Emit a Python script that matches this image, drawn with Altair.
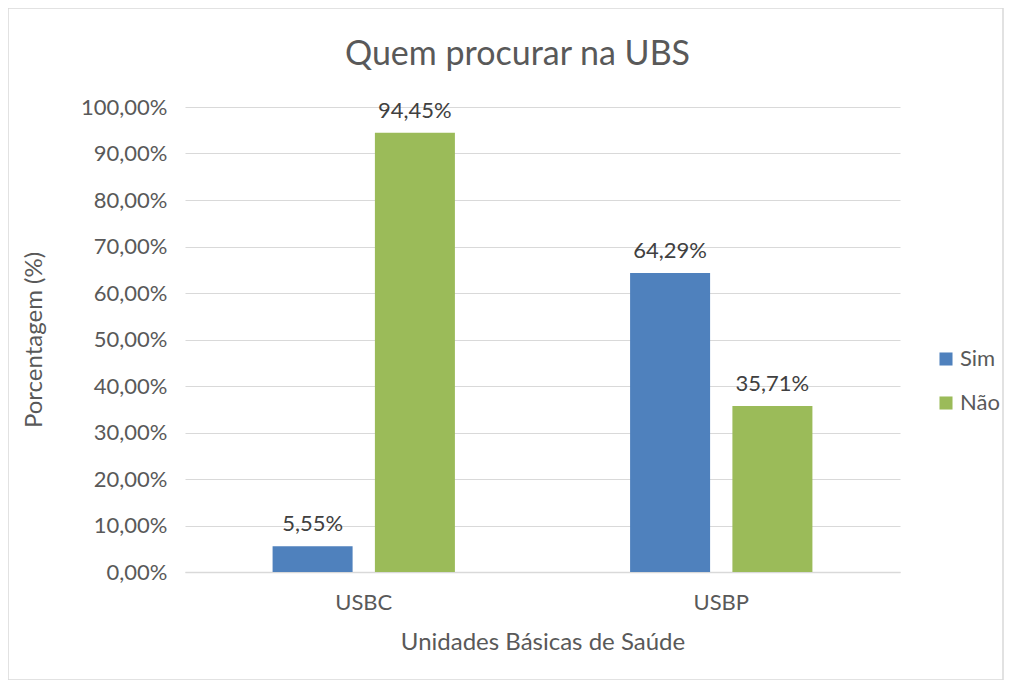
import altair as alt
import pandas as pd

categories = ["USBC", "USBC", "USBP", "USBP"]
series = ["Sim", "Não", "Sim", "Não"]
values = [5.55, 94.45, 64.29, 35.71]
y_ticks = [0, 10, 20, 30, 40, 50, 60, 70, 80, 90, 100]
chart_title = "Quem procurar na UBS"

df = pd.DataFrame({"unidade": categories, "resposta": series, "pct": [v / 100 for v in values]})

W, H = 715, 465
FONT = "Lato"
TXT = "#595959"

base = alt.Chart(df)

bars = base.mark_bar().encode(
    x=alt.X("unidade:N", title="Unidades Básicas de Saúde",
            scale=alt.Scale(paddingInner=0.49, paddingOuter=0.245),
            axis=alt.Axis(labelAngle=0, labelFontSize=22, labelColor=TXT, labelPadding=20,
                          titleFontSize=24, titleColor=TXT, titleFontWeight="normal", titlePadding=17,
                          ticks=False, domainColor="#d9d9d9", domainWidth=1.5, labelFont=FONT, titleFont=FONT)),
    xOffset=alt.XOffset("resposta:N", sort=["Sim", "Não"],
                        scale=alt.Scale(paddingInner=0.218, paddingOuter=0)),
    y=alt.Y("pct:Q", title="Porcentagem (%)",
            scale=alt.Scale(domain=[0, 1]),
            axis=alt.Axis(values=[t / 100 for t in y_ticks],
                          labelExpr="replace(format(datum.value, '.2%'), '.', ',')",
                          labelFontSize=22, labelColor=TXT, labelPadding=18, labelFont=FONT,
                          titleFontSize=24, titleColor=TXT, titleFontWeight="normal", titleFont=FONT,
                          titlePadding=34, ticks=False, domain=False,
                          gridColor="#d9d9d9", gridWidth=1.2)),
    color=alt.Color("resposta:N", sort=["Sim", "Não"],
                    scale=alt.Scale(domain=["Sim", "Não"], range=["#4f81bd", "#9bbb59"]),
                    legend=alt.Legend(title=None, orient="none", legendX=750, legendY=241,
                                      symbolType="square", symbolSize=170, symbolStrokeWidth=0,
                                      labelFontSize=22, labelColor=TXT, labelFont=FONT,
                                      labelOffset=3, rowPadding=22, symbolOffset=0)),
)

labels = base.transform_calculate(
    lbl="replace(format(datum.pct, '.2%'), '.', ',')"
).mark_text(baseline="bottom", dy=-10, fontSize=22, color="#404040", font=FONT).encode(
    x=alt.X("unidade:N"),
    xOffset=alt.XOffset("resposta:N", sort=["Sim", "Não"]),
    y=alt.Y("pct:Q"),
    text="lbl:N",
)

title = alt.Chart(pd.DataFrame({"t": [chart_title]})).mark_text(
    fontSize=34, font=FONT, color=TXT, baseline="middle", align="center"
).encode(
    x=alt.value(W / 2 - 25), y=alt.value(-52), text="t:N"
)

border = alt.Chart(pd.DataFrame({"a": [0]})).mark_rect(
    fill=None, stroke="#d9d9d9", strokeWidth=1.5, clip=False
).encode(
    x=alt.value(-177), x2=alt.value(W + 103), y=alt.value(-99), y2=alt.value(H + 108)
)

chart = alt.layer(bars, labels, title, border).properties(
    width=W, height=H,
    autosize=alt.AutoSizeParams(type="none"),
    padding={"left": 177, "top": 99, "right": 104, "bottom": 108},
).configure_view(stroke=None)

chart.save("out.html", embed_options={"renderer": "svg", "actions": False})
